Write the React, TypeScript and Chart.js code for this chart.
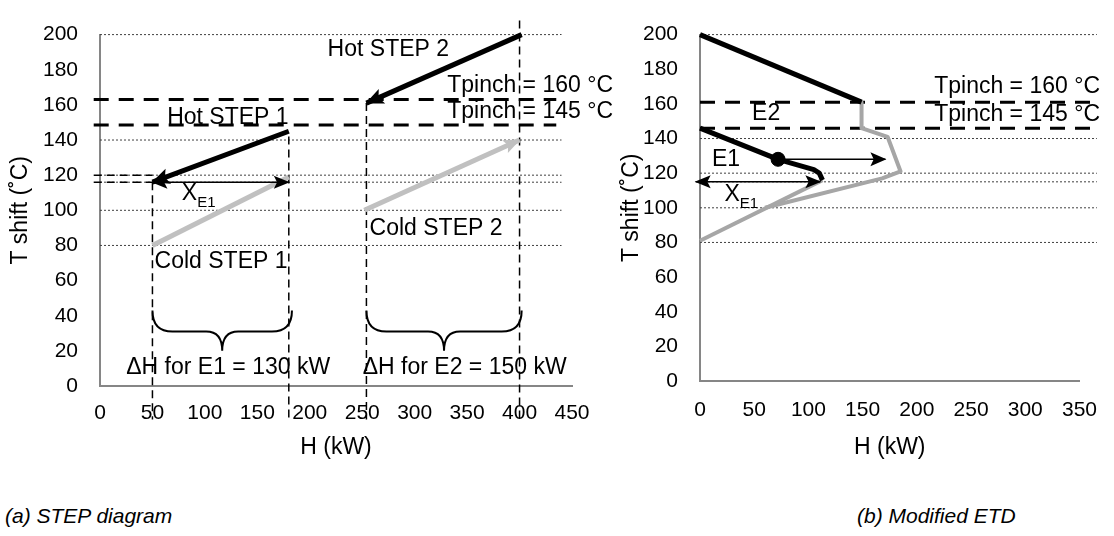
import React, { useEffect, useRef } from "react";
import { Chart, registerables } from "chart.js";

Chart.register(...registerables);

const FONT = "'Liberation Sans', Arial, Helvetica, sans-serif";

// ---------------- (a) STEP diagram ----------------
const stepHTicks = [0, 50, 100, 150, 200, 250, 300, 350, 400, 450];
const stepTTicks = [0, 20, 40, 60, 80, 100, 120, 140, 160, 180, 200];

const hotStep1H = [180, 50];
const hotStep1T = [145, 116];
const hotStep2H = [402, 254];
const hotStep2T = [200, 161];
const coldStep1H = [50, 180];
const coldStep1T = [80, 119];
const coldStep2H = [252, 400];
const coldStep2T = [100, 140];
const xe1StepH = [50, 180];
const xe1StepT = [116, 116];

const stepPinchT = [163, 148.5];
const stepPinchSpanH = [-6, 435];
const stepGuideT = [200, 140, 120, 116, 100, 80];
const stepGuideSpanH = [0, 440];
const stepShortDashT = [120, 116];
const stepShortDashSpanH = [-6, 50];
const stepDropH = [50, 180, 254, 400];
const stepDropTopT = [116, 142, 161, 208];
const stepDropBottomT = [-19, -19, -19, -19];

const stepBraceH = [
  [50, 183],
  [254, 402],
];
const stepBraceT = [43, 31, 20]; // ends, bar, tip

const stepLabels = [
  { text: "Hot STEP 2", h: 217, t: 191.6 },
  { text: "Hot STEP 1", h: 64, t: 152.9 },
  { text: "Tpinch = 160 °C", h: 331, t: 170.7 },
  { text: "Tpinch = 145 °C", h: 331, t: 156.3 },
  { text: "X", sub: "E1", h: 78, t: 109.2 },
  { text: "Cold STEP 1", h: 52, t: 71 },
  { text: "Cold STEP 2", h: 257, t: 89.7 },
  { text: "\u0394H for E1 = 130 kW", h: 25, t: 10.3 },
  { text: "\u0394H for E2 = 150 kW", h: 250.5, t: 10.3 },
];

// ---------------- (b) Modified ETD ----------------
const etdHTicks = [0, 50, 100, 150, 200, 250, 300, 350];
const etdTTicks = [0, 20, 40, 60, 80, 100, 120, 140, 160, 180, 200];

const etdHotUpperH = [0, 149];
const etdHotUpperT = [200, 161];
const etdHotE1H = [0, 72, 105, 110, 113];
const etdHotE1T = [146, 128, 122, 120, 116];
const etdColdAH = [0, 113];
const etdColdAT = [81, 116];
const etdColdBH = [149, 149, 173, 185, 168, 60];
const etdColdBT = [161, 146, 141, 121, 117, 100];
const etdDotH = [72];
const etdDotT = [128];
const etdE1ArrowH = [72, 171];
const etdE1ArrowT = [128, 128];
const etdXE1H = [-4, 111];
const etdXE1T = [115, 115];

const etdPinchT = [161, 146];
const etdPinchSpanH = [0, 366];
const etdGuideT = [200, 140, 120, 115, 100, 80];
const etdGuideSpanH = [0, 366];

const etdLabels = [
  { text: "Tpinch = 160 °C", h: 216, t: 170 },
  { text: "Tpinch = 145 °C", h: 216, t: 154 },
  { text: "E2", h: 48, t: 154.5 },
  { text: "E1", h: 11, t: 127.7 },
  { text: "X", sub: "E1", h: 22.5, t: 107.6 },
];

// ---------------- helpers ----------------
function xy(hs: number[], ts: number[]) {
  return hs.map((h, i) => ({ x: h, y: ts[i] }));
}

function line(
  data: { x: number; y: number }[],
  color: string,
  width: number,
  dash: number[] = [],
  arrow?: { at: "end" | "start" | "both"; len: number; wid: number }
) {
  return {
    data,
    showLine: true,
    borderColor: color,
    backgroundColor: color,
    borderWidth: width,
    borderDash: dash,
    borderCapStyle: "butt",
    borderJoinStyle: "round",
    pointRadius: 0,
    pointHoverRadius: 0,
    tension: 0,
    fill: false,
    clip: false,
    arrow,
  } as any;
}

function makeDecor(
  labels: { text: string; sub?: string; h: number; t: number }[],
  braces: number[][],
  braceT: number[] | null
) {
  return {
    id: "decor",
    afterDatasetsDraw(chart: any) {
      const ctx = chart.ctx as CanvasRenderingContext2D;
      chart.data.datasets.forEach((ds: any, i: number) => {
        if (!ds.arrow) return;
        const pts = chart.getDatasetMeta(i).data;
        if (pts.length < 2) return;
        const head = (tip: any, from: any) => {
          const ang = Math.atan2(tip.y - from.y, tip.x - from.x);
          const L = ds.arrow.len;
          const W = ds.arrow.wid;
          ctx.save();
          ctx.translate(tip.x, tip.y);
          ctx.rotate(ang);
          ctx.beginPath();
          ctx.moveTo(1, 0);
          ctx.lineTo(-L, W / 2);
          ctx.lineTo(-L * 0.78, 0);
          ctx.lineTo(-L, -W / 2);
          ctx.closePath();
          ctx.fillStyle = ds.borderColor;
          ctx.fill();
          ctx.restore();
        };
        if (ds.arrow.at === "end" || ds.arrow.at === "both")
          head(pts[pts.length - 1], pts[pts.length - 2]);
        if (ds.arrow.at === "start" || ds.arrow.at === "both") head(pts[0], pts[1]);
      });
    },
    afterDraw(chart: any) {
      const ctx = chart.ctx as CanvasRenderingContext2D;
      const xs = chart.scales.x;
      const ys = chart.scales.y;
      ctx.save();
      // braces
      if (braceT) {
        ctx.strokeStyle = "#000";
        ctx.lineWidth = 2;
        braces.forEach((b) => {
          const X0 = xs.getPixelForValue(b[0]);
          const X1 = xs.getPixelForValue(b[1]);
          const Xm = (X0 + X1) / 2;
          const T = ys.getPixelForValue(braceT[0]);
          const M = ys.getPixelForValue(braceT[1]);
          const P = ys.getPixelForValue(braceT[2]);
          const r = 20;
          const q = 16;
          ctx.beginPath();
          ctx.moveTo(X0, T);
          ctx.quadraticCurveTo(X0, M, X0 + r, M);
          ctx.lineTo(Xm - q, M);
          ctx.quadraticCurveTo(Xm, M, Xm, P);
          ctx.quadraticCurveTo(Xm, M, Xm + q, M);
          ctx.lineTo(X1 - r, M);
          ctx.quadraticCurveTo(X1, M, X1, T);
          ctx.stroke();
        });
      }
      // labels
      ctx.fillStyle = "#000";
      ctx.textBaseline = "middle";
      ctx.textAlign = "left";
      labels.forEach((l) => {
        const px = xs.getPixelForValue(l.h);
        const py = ys.getPixelForValue(l.t);
        ctx.font = `23px ${FONT}`;
        ctx.fillText(l.text, px, py);
        if (l.sub) {
          const w = ctx.measureText(l.text).width;
          ctx.font = `15px ${FONT}`;
          ctx.fillText(l.sub, px + w, py + 9);
        }
      });
      ctx.restore();
    },
  };
}

function axes(
  hTicks: number[],
  tTicks: number[],
  xHeight: number,
  xPad: number,
  yTitlePad: number
) {
  const tickFont = { family: FONT, size: 21 };
  const titleFont = { family: FONT, size: 23 };
  return {
    x: {
      type: "linear",
      min: hTicks[0],
      max: hTicks[hTicks.length - 1],
      afterBuildTicks: (s: any) => {
        s.ticks = hTicks.map((v) => ({ value: v }));
      },
      afterFit: (s: any) => {
        s.height = xHeight;
      },
      ticks: { padding: xPad, color: "#000", font: tickFont, maxRotation: 0, autoSkip: false },
      grid: { drawOnChartArea: false, drawTicks: false, color: "rgba(0,0,0,0)" },
      border: { display: true, color: "#868686", width: 2 },
      title: {
        display: true,
        text: "H (kW)",
        color: "#000",
        font: titleFont,
        padding: { top: 0, bottom: 9 },
      },
    },
    y: {
      type: "linear",
      min: tTicks[0],
      max: tTicks[tTicks.length - 1],
      afterBuildTicks: (s: any) => {
        s.ticks = tTicks.map((v) => ({ value: v }));
      },
      afterFit: (s: any) => {
        s.width = 100;
      },
      ticks: { padding: 22, color: "#000", font: tickFont, autoSkip: false },
      grid: { drawOnChartArea: false, drawTicks: false, color: "rgba(0,0,0,0)" },
      border: { display: true, color: "#868686", width: 2 },
      title: {
        display: true,
        text: "T shift (\u02DAC)",
        color: "#000",
        font: titleFont,
        padding: { top: yTitlePad, bottom: 0 },
      },
    },
  };
}

function stepDatasets() {
  const dotted = [2, 2];
  const ds: any[] = [];
  stepGuideT.forEach((t) =>
    ds.push(line(xy(stepGuideSpanH, [t, t]), "#404040", 1, dotted))
  );
  stepPinchT.forEach((t) => ds.push(line(xy(stepPinchSpanH, [t, t]), "#000", 3, [15, 10])));
  stepShortDashT.forEach((t) =>
    ds.push(line(xy(stepShortDashSpanH, [t, t]), "#000", 1.5, [8, 5]))
  );
  stepDropH.forEach((h, i) =>
    ds.push(line(xy([h, h], [stepDropTopT[i], stepDropBottomT[i]]), "#000", 1.5, [8, 5]))
  );
  ds.push(line(xy(coldStep1H, coldStep1T), "#c0c0c0", 5));
  ds.push(line(xy(coldStep2H, coldStep2T), "#c0c0c0", 5, [], { at: "end", len: 16, wid: 14 }));
  ds.push(line(xy(hotStep1H, hotStep1T), "#000", 5, [], { at: "end", len: 17, wid: 16 }));
  ds.push(line(xy(hotStep2H, hotStep2T), "#000", 5, [], { at: "end", len: 17, wid: 16 }));
  ds.push(line(xy(xe1StepH, xe1StepT), "#000", 1.5, [], { at: "both", len: 15, wid: 13 }));
  return ds.reverse();
}

function etdDatasets() {
  const dotted = [2, 2];
  const ds: any[] = [];
  etdGuideT.forEach((t) => ds.push(line(xy(etdGuideSpanH, [t, t]), "#404040", 1, dotted)));
  etdPinchT.forEach((t) => ds.push(line(xy(etdPinchSpanH, [t, t]), "#000", 3, [15, 10])));
  ds.push(line(xy(etdColdAH, etdColdAT), "#a6a6a6", 4));
  ds.push(line(xy(etdColdBH, etdColdBT), "#a6a6a6", 4));
  ds.push(line(xy(etdHotUpperH, etdHotUpperT), "#000", 5));
  ds.push(line(xy(etdHotE1H, etdHotE1T), "#000", 5));
  ds.push(line(xy(etdE1ArrowH, etdE1ArrowT), "#000", 1.5, [], { at: "end", len: 15, wid: 14 }));
  ds.push(line(xy(etdXE1H, etdXE1T), "#000", 1.5, [], { at: "both", len: 15, wid: 13 }));
  ds.push({
    data: xy(etdDotH, etdDotT),
    showLine: false,
    pointRadius: 7,
    pointHoverRadius: 7,
    pointBackgroundColor: "#000",
    pointBorderColor: "#000",
    clip: false,
  });
  return ds.reverse();
}

export default function App() {
  const leftRef = useRef<HTMLCanvasElement>(null);
  const rightRef = useRef<HTMLCanvasElement>(null);

  useEffect(() => {
    const common = {
      responsive: false,
      animation: false,
      events: [],
      plugins: {
        legend: { display: false },
        tooltip: { enabled: false },
        title: { display: false },
      },
    };
    const left = new Chart(leftRef.current as HTMLCanvasElement, {
      type: "scatter",
      data: { datasets: stepDatasets() },
      options: {
        ...common,
        layout: { padding: { left: 0, right: 58, top: 27, bottom: 0 } },
        scales: axes(stepHTicks, stepTTicks, 84, 15, 7),
      } as any,
      plugins: [makeDecor(stepLabels, stepBraceH, stepBraceT)],
    });
    const right = new Chart(rightRef.current as HTMLCanvasElement, {
      type: "scatter",
      data: { datasets: etdDatasets() },
      options: {
        ...common,
        layout: { padding: { left: 0, right: 25, top: 27, bottom: 0 } },
        scales: axes(etdHTicks, etdTTicks, 89, 17, 18),
      } as any,
      plugins: [makeDecor(etdLabels, [], null)],
    });
    return () => {
      left.destroy();
      right.destroy();
    };
  }, []);

  const caption: React.CSSProperties = {
    position: "absolute",
    top: 504,
    fontFamily: FONT,
    fontStyle: "italic",
    fontSize: 21,
    lineHeight: "24px",
    color: "#000",
    whiteSpace: "nowrap",
  };

  return (
    <div
      style={{
        position: "fixed",
        left: 0,
        top: 0,
        width: 1114,
        height: 536,
        background: "#fff",
        overflow: "hidden",
      }}
    >
      <canvas
        ref={leftRef}
        width={630}
        height={470}
        style={{ position: "absolute", left: 0, top: 0, width: 630, height: 470 }}
      />
      <canvas
        ref={rightRef}
        width={514}
        height={470}
        style={{ position: "absolute", left: 600, top: 0, width: 514, height: 470 }}
      />
      <div style={{ ...caption, left: 5 }}>(a) STEP diagram</div>
      <div style={{ ...caption, left: 857 }}>(b) Modified ETD</div>
    </div>
  );
}
